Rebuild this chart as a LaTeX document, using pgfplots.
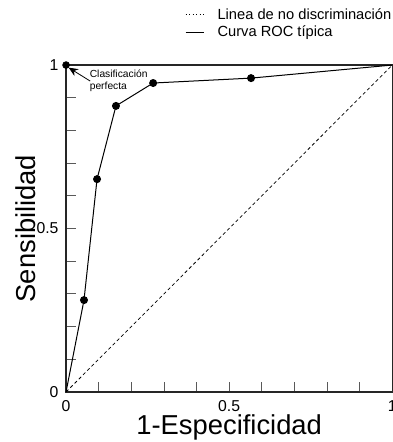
\documentclass[border=0pt]{standalone}
\usepackage{pgfplots}
\pgfplotsset{compat=1.18}
\usepackage{fontspec}
\setmainfont{Liberation Sans}
\usetikzlibrary{arrows.meta}
\begin{document}
\begin{tikzpicture}
\begin{axis}[
  at={(0,0)}, anchor=south west,
  scale only axis,
  width=244.5pt, height=245pt,
  xmin=0, xmax=1, ymin=0, ymax=1,
  xtick={0,0.1,...,1.01}, ytick={0,0.1,...,1.01},
  xticklabels={0,,,,,0.5,,,,,1},
  yticklabels={0,,,,,0.5,,,,,1},
  xtick pos=left, ytick pos=left,
  tick align=inside,
  major tick length=7.5pt,
  tick style={black!65, line width=0.6pt},
  axis line style={line width=0.9pt, black!85},
  /pgf/number format/assume math mode=true,
  tick label style={font=\fontsize{11.8pt}{14pt}\selectfont},
  xticklabel style={anchor=north, inner sep=0pt, yshift=-6pt},
  yticklabel style={anchor=east, inner sep=0pt, xshift=-5.5pt},
  xlabel={1-Especificidad},
  ylabel={Sensibilidad},
  label style={font=\fontsize{20.5pt}{24pt}\selectfont},
  xlabel style={at={(axis description cs:0.5,0)}, anchor=north, inner sep=0pt, yshift=-17pt},
  ylabel style={at={(axis description cs:-0.155,0.5)}, rotate=0, anchor=north, inner sep=0pt},
  legend style={draw=none, fill=none, at={(1,1)}, anchor=south east, yshift=19pt,
    font=\fontsize{11pt}{13.5pt}\selectfont, row sep=2.5pt, inner sep=0pt,
    nodes={inner sep=0.5pt}},
  legend cell align=left,
  legend image code/.code={\draw[#1] (0pt,0pt) -- (13.5pt,0pt); \path (23pt,0pt);},
  clip=false,
]
\addlegendimage{black, dotted, line width=0.6pt}
\addlegendentry{Linea de no discriminación}
\addplot[black, line width=0.55pt, dash pattern=on 2.5pt off 2pt, forget plot] coordinates {(0,0) (1,1)};
\addplot[black, line width=0.75pt, mark=*, mark size=2.6pt, mark indices={2,3,4,5,6}] coordinates {
  (0,0) (0.055,0.281) (0.095,0.651) (0.153,0.875) (0.267,0.945) (0.567,0.96) (1,1)};
\addlegendentry{Curva ROC típica}
\addplot[black, only marks, mark=*, mark size=2.6pt, forget plot] coordinates {(0,1)};
\draw[-{Stealth[length=7pt,width=6pt]}, line width=0.6pt] (axis cs:0.074,0.951) -- (axis cs:0.008,0.992);
\node[anchor=west, align=left, inner sep=0pt, font=\fontsize{7.7pt}{9.5pt}\selectfont] at (axis cs:0.072,0.952) {Clasificación\\perfecta};
\end{axis}
\pgfresetboundingbox
\path (-49.5pt,-37.5pt) rectangle (244.5pt,293.75pt);
\end{tikzpicture}
\end{document}
